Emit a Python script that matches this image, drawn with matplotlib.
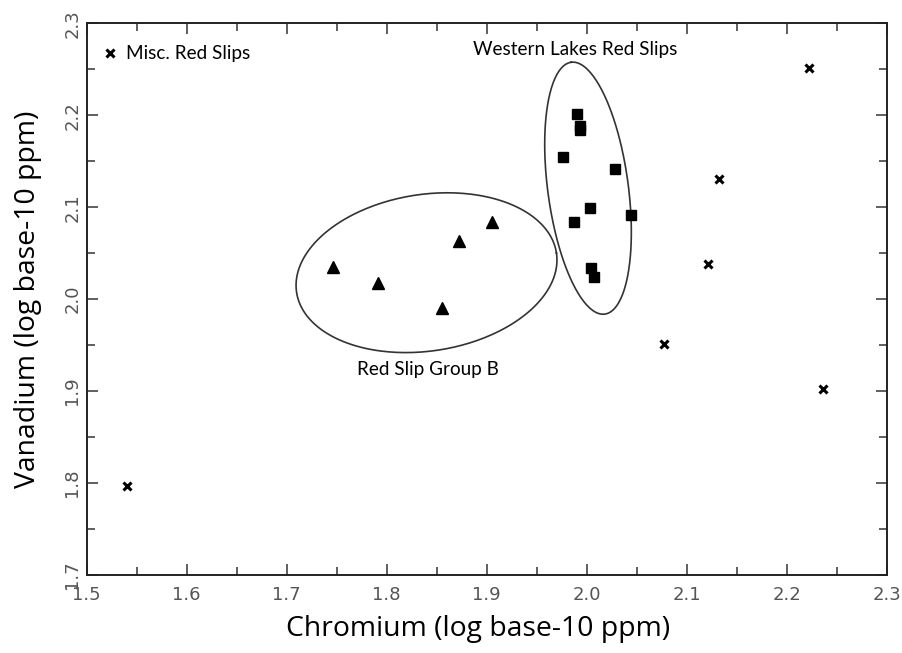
import matplotlib
matplotlib.use("Agg")
import matplotlib.pyplot as plt
import numpy as np

# Misc. red slips (crosses)
misc_cr = [1.540, 2.2226, 2.132, 2.121, 2.0776, 2.2366]
misc_v = [1.7965, 2.2516, 2.131, 2.0383, 1.951, 1.9026]

# Red Slip Group B (triangles)
grpb_cr = [1.7466, 1.7916, 1.8556, 1.8723, 1.905]
grpb_v = [2.0346, 2.0171, 1.9909, 2.0637, 2.0844]

# Western Lakes Red Slips (squares)
wl_cr = [1.9906, 1.9936, 1.9936, 1.9766, 2.0283, 2.0033, 2.0443, 1.9873, 2.004, 2.0076]
wl_v = [2.2011, 2.188, 2.1842, 2.1542, 2.1414, 2.0993, 2.0917, 2.0844, 2.0339, 2.0237]

# group outlines: centre, semi-axes (x units), tilt in degrees
ell_b = (1.8398, 2.0288, 0.1314, 0.0781, 8.6)
ell_wl = (2.0013, 2.1207, 0.1267, 0.0403, 97.6)

fig = plt.figure(figsize=(9.03, 6.53), dpi=100)
ax = fig.add_axes([0.096, 0.1194, 0.886, 0.8449])

ax.set_xlim(1.5, 2.3)
ax.set_ylim(1.7, 2.3)
yscale = 1000 / 917  # px per x unit / px per y unit


def outline(cx, cy, a, b, ang):
    t = np.linspace(0, 2 * np.pi, 300)
    th = np.radians(ang)
    px = a * np.cos(t) * np.cos(th) - b * np.sin(t) * np.sin(th)
    py = a * np.cos(t) * np.sin(th) + b * np.sin(t) * np.cos(th)
    ax.plot(cx + px, cy + py * yscale, color="#333333", lw=1.2)


outline(*ell_b)
outline(*ell_wl)

ax.plot(misc_cr, misc_v, "x", color="black", ms=6, mew=2.2, ls="none",
        label="Misc. Red Slips")
ax.plot(grpb_cr, grpb_v, "^", color="black", ms=8.3, ls="none")
ax.plot(wl_cr, wl_v, "s", color="black", ms=6.8, ls="none")

ax.text(1.8413, 1.924, "Red Slip Group B", ha="center", va="center",
        fontsize=13.6, family="Lato")
ax.text(1.988, 2.271, "Western Lakes Red Slips", ha="center", va="center",
        fontsize=13.6, family="Lato")

leg = ax.legend(loc="center left", bbox_to_anchor=(0.022, 0.9444), frameon=False,
                handlelength=0.6, handletextpad=0.55, borderaxespad=0,
                borderpad=0, prop={"family": "Lato", "size": 13.6})

ax.set_xticks(np.arange(1.5, 2.31, 0.1))
ax.set_xticks(np.arange(1.55, 2.3, 0.1), minor=True)
ax.set_yticks(np.arange(1.7, 2.31, 0.1))
ax.set_yticks(np.arange(1.75, 2.3, 0.1), minor=True)
ax.set_xticklabels([f"{v:.1f}" for v in np.arange(1.5, 2.31, 0.1)])
ax.set_yticklabels([f"{v:.1f}" for v in np.arange(1.7, 2.31, 0.1)],
                   rotation=90, va="center")
ax.tick_params(which="both", direction="in", top=True, right=True,
               width=1.1, color="#333333", labelsize=13, labelcolor="#555555")
ax.tick_params(which="major", length=8)
ax.tick_params(axis="x", which="major", pad=8)
ax.tick_params(axis="y", which="major", pad=4)
ax.tick_params(which="minor", length=6)
for s in ax.spines.values():
    s.set_linewidth(1.4)
    s.set_color("#222222")

ax.set_xlabel("Chromium (log base-10 ppm)", fontsize=20.4, family="Open Sans",
              labelpad=8)
ax.set_ylabel("Vanadium (log base-10 ppm)", fontsize=20.4, family="Open Sans",
              labelpad=15)
ax.xaxis.label.set_x(0.489)

fig.savefig("out.png", dpi=100)
